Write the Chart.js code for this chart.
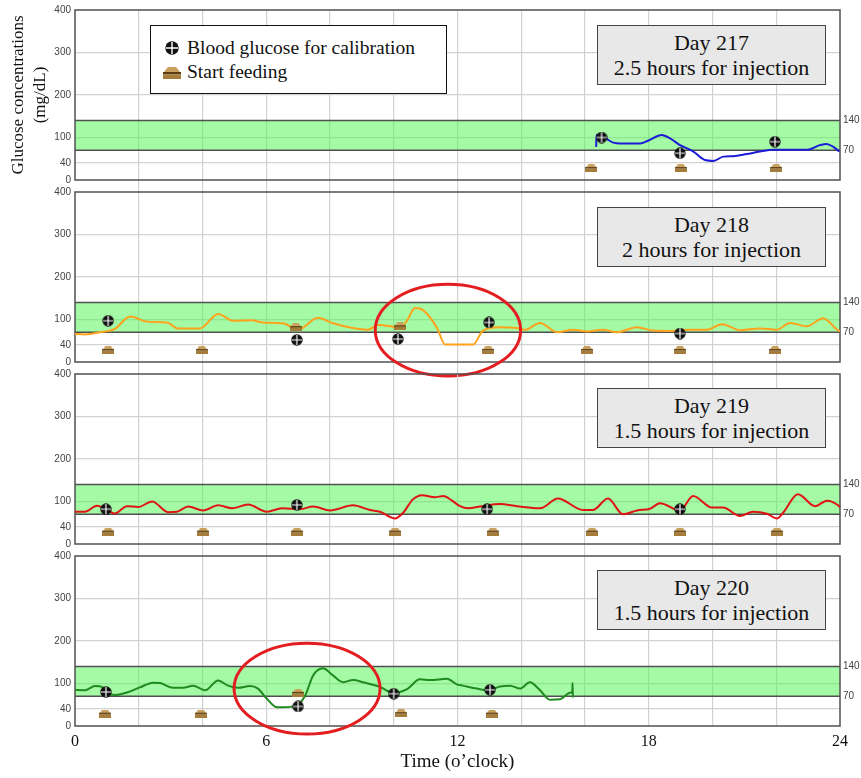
<!DOCTYPE html>
<html>
<head>
<meta charset="utf-8">
<script src="https://cdn.jsdelivr.net/npm/chart.js@4/dist/chart.umd.min.js"></script>
<style>
html,body{margin:0;padding:0;background:#fff;}
#wrap{position:relative;width:861px;height:778px;overflow:hidden;background:#fff;}
#wrap > canvas{position:absolute;left:0;}
.daybox{position:absolute;left:597px;width:229px;height:60px;box-sizing:border-box;border:1.5px solid #444;background:#e8e8e8;
  font-family:"Liberation Serif","Times New Roman",serif;font-size:22px;line-height:25px;text-align:center;padding-top:4px;color:#111;z-index:5;}
.legend{position:absolute;left:150px;top:25px;width:297px;height:69px;box-sizing:border-box;border:1.5px solid #111;background:#fff;
  font-family:"Liberation Serif","Times New Roman",serif;font-size:19.5px;color:#111;z-index:5;}
.legend span{position:absolute;left:36px;line-height:24px;white-space:nowrap;font-family:"Liberation Serif","Times New Roman",serif;}
.legend canvas{position:absolute;}
</style>
</head>
<body>
<div id="wrap">
  <canvas id="c0"></canvas>
  <canvas id="c1"></canvas>
  <canvas id="c2"></canvas>
  <canvas id="c3"></canvas>
  <div class="legend" id="legend">
    <span style="top:10px">Blood glucose for calibration</span>
    <span style="top:34px">Start feeding</span>
  </div>
</div>
<script>
// ---------------- DATA ----------------
const hourTicks = [0, 6, 12, 18, 24];
const yTicksLeft = [0, 40, 100, 200, 300, 400];
const yTicksRight = [70, 140];
const targetRange = [70, 140];
const dayLabels = ['Day 217', 'Day 218', 'Day 219', 'Day 220'];
const injectionLabels = ['2.5 hours for injection', '2 hours for injection', '1.5 hours for injection', '1.5 hours for injection'];

// Day 217 (blue)
const day217Time = [16.35,16.36,16.52,16.68,16.89,17.10,17.73,17.99,18.41,18.67,18.98,19.40,19.76,20.03,20.34,20.65,21.07,21.49,21.91,22.95,23.37,23.58,23.79,23.98];
const day217Glucose = [78,106,100,96,88,86,86,93,106,98,82,67,47,45,55,56,61,67,71,71,82,85,78,67];
const day217CalibTime = [16.52, 18.98, 21.96];
const day217CalibGlucose = [100, 63, 90];
const day217FeedTime = [16.2, 19.0, 22.0];
const day217FeedGlucose = [28, 28, 28];

// Day 218 (orange)
const day218Time = [0,0.31,0.78,1.25,1.73,2.26,2.89,3.23,3.92,4.49,4.96,5.55,5.90,6.53,7.0,7.62,8.09,8.72,9.19,9.51,9.98,10.20,10.42,10.67,10.92,11.36,11.61,12.49,12.80,13.33,13.87,14.12,14.59,15.12,15.62,16.06,16.56,17.00,17.63,18.13,18.76,19.20,19.83,20.30,20.86,21.49,22.02,22.43,22.96,23.47,23.91,24];
const day218Glucose = [66,65,70,78,107,95,93,79,79,113,97,98,93,91,76,104,91,80,76,87,83,80,98,127,122,80,41,41,74,82,80,76,92,70,76,72,76,70,82,74,73,76,76,89,75,79,76,92,84,103,76,72];
const day218CalibTime = [1.04, 6.96, 10.13, 12.99, 18.98];
const day218CalibGlucose = [97, 52, 54, 93, 67];
const day218FeedTime = [1.04, 3.98, 6.93, 10.2, 12.96, 16.06, 18.98, 21.96];
const day218FeedGlucose = [28, 28, 82, 84, 28, 28, 28, 28];

// Day 219 (red)
const day219Time = [0,0.31,0.69,1.10,1.25,1.63,1.98,2.42,2.92,3.20,3.55,4.02,4.49,4.93,5.43,6.02,6.49,7.06,7.47,8.0,8.72,9.25,9.57,10.04,10.29,10.60,10.89,11.29,11.55,11.83,12.08,12.33,12.77,13.33,13.87,14.59,15.15,15.94,16.25,16.72,17.19,17.63,18.04,18.35,18.98,19.39,19.98,20.33,20.86,21.27,21.71,22.02,22.21,22.68,23.22,23.59,23.94,24];
const day219Glucose = [76,76,90,76,72,89,87,100,75,76,88,79,91,84,93,76,84,82,88,79,91,80,76,60,73,105,115,110,113,102,89,84,89,94,89,84,107,80,80,107,70,79,83,96,79,113,86,86,66,76,71,60,73,117,89,102,91,86];
const day219CalibTime = [0.97, 6.96, 12.93, 18.98];
const day219CalibGlucose = [82, 92, 82, 82];
const day219FeedTime = [1.04, 4.02, 6.96, 10.04, 13.11, 16.22, 18.98, 22.02];
const day219FeedGlucose = [29, 29, 29, 29, 29, 29, 29, 29];

// Day 220 (green)
const day220Time = [0,0.31,0.63,0.85,1.0,1.25,1.63,2.04,2.45,2.67,3.07,3.39,3.70,4.08,4.49,4.80,5.11,5.49,5.74,6.02,6.34,6.75,7.0,7.22,7.47,7.78,8.09,8.41,8.72,9.04,9.57,9.98,10.42,10.82,11.14,11.67,11.98,12.17,12.61,12.96,13.33,13.65,13.96,14.27,14.59,14.90,15.22,15.53,15.60,15.61,15.62];
const day220Glucose = [85,84,94,92,78,73,79,91,102,101,90,90,95,84,107,95,90,94,88,64,44,45,50,71,119,136,119,103,108,103,92,78,87,110,108,111,98,95,88,84,93,95,88,103,84,62,63,78,81,101,67];
const day220CalibTime = [0.97, 7.0, 10.0, 13.02];
const day220CalibGlucose = [80, 46, 76, 85];
const day220FeedTime = [0.94, 3.95, 7.0, 10.23, 13.08];
const day220FeedGlucose = [29, 29, 78, 30, 29];

// highlighted episodes (data units: hours, mg/dL)
const highlight218 = {cx: 11.70, cy: 75, rx: 2.28, ry: 108};
const highlight220 = {cx: 7.28, cy: 88, rx: 2.29, ry: 107};

// ---------------- RENDER ----------------
const SERIF = "'Liberation Serif','Times New Roman',serif";
const SANS = "'Liberation Sans',Arial,sans-serif";
Chart.defaults.font.family = SANS;

function toXY(xs, ys){ return xs.map((x, k) => ({x: x, y: ys[k]})); }

function makeCalibIcon(d){
  const c = document.createElement('canvas'); c.width = d; c.height = d;
  const g = c.getContext('2d'); const r = d / 2;
  g.fillStyle = '#111'; g.beginPath(); g.arc(r, r, r - 0.3, 0, Math.PI * 2); g.fill();
  g.strokeStyle = '#fff'; g.lineWidth = Math.max(1.1, d / 10);
  g.beginPath(); g.moveTo(r, 1); g.lineTo(r, d - 1); g.moveTo(1, r); g.lineTo(d - 1, r); g.stroke();
  return c;
}
function makeFeedIcon(w, h){
  const c = document.createElement('canvas'); c.width = w; c.height = h;
  const g = c.getContext('2d');
  const t = Math.round(h * 0.42), s = Math.max(1.5, h * 0.2);
  g.fillStyle = '#c9a15e'; g.beginPath();
  g.moveTo(w * 0.27, 0); g.lineTo(w * 0.73, 0); g.lineTo(w - 1, t); g.lineTo(1, t); g.closePath(); g.fill();
  g.fillStyle = '#5b3b10'; g.fillRect(0, t, w, s);
  g.fillStyle = '#a67c3a'; g.fillRect(0, t + s, w, h - t - s);
  return c;
}

const calibIcon = makeCalibIcon(12);
const feedIcon = makeFeedIcon(12, 8);

// legend icons
(function(){
  const lg = document.getElementById('legend');
  const a = makeCalibIcon(14); a.style.left = '14px'; a.style.top = '15px'; lg.appendChild(a);
  const b = makeFeedIcon(18, 12); b.style.left = '12px'; b.style.top = '41px'; lg.appendChild(b);
})();

const bandPlugin = {
  id: 'band',
  beforeDatasetsDraw(chart, args, opts){
    const {ctx, chartArea: a, scales: {y}} = chart;
    const yTop = y.getPixelForValue(targetRange[1]);
    const yBot = y.getPixelForValue(targetRange[0]);
    ctx.save();
    ctx.fillStyle = 'rgba(75,245,75,0.5)';
    ctx.fillRect(a.left, yTop, a.right - a.left, yBot - yTop);
    ctx.strokeStyle = '#505050'; ctx.lineWidth = 1.5;
    ctx.beginPath();
    ctx.moveTo(a.left, yTop); ctx.lineTo(a.right, yTop);
    ctx.moveTo(a.left, yBot); ctx.lineTo(a.right, yBot);
    ctx.stroke();
    ctx.strokeRect(a.left, a.top, a.right - a.left, a.bottom - a.top);
    ctx.restore();
  },
  afterDatasetsDraw(chart, args, opts){
    const e = opts.ellipse; if (!e) return;
    const {ctx, scales: {x, y}} = chart;
    const cx = x.getPixelForValue(e.cx), cy = y.getPixelForValue(e.cy);
    const rx = Math.abs(x.getPixelForValue(e.cx + e.rx) - cx);
    const ry = Math.abs(y.getPixelForValue(e.cy + e.ry) - cy);
    ctx.save();
    ctx.strokeStyle = '#e41e20'; ctx.lineWidth = 3;
    ctx.beginPath(); ctx.ellipse(cx, cy, rx, ry, 0, 0, Math.PI * 2); ctx.stroke();
    ctx.restore();
  }
};

const panels = [
  {time: day217Time, glucose: day217Glucose, calT: day217CalibTime, calG: day217CalibGlucose, feedT: day217FeedTime, feedG: day217FeedGlucose, color: '#1c1cd8', ellipse: null},
  {time: day218Time, glucose: day218Glucose, calT: day218CalibTime, calG: day218CalibGlucose, feedT: day218FeedTime, feedG: day218FeedGlucose, color: '#ffa21c', ellipse: highlight218},
  {time: day219Time, glucose: day219Glucose, calT: day219CalibTime, calG: day219CalibGlucose, feedT: day219FeedTime, feedG: day219FeedGlucose, color: '#e01414', ellipse: null},
  {time: day220Time, glucose: day220Glucose, calT: day220CalibTime, calG: day220CalibGlucose, feedT: day220FeedTime, feedG: day220FeedGlucose, color: '#1f8a1f', ellipse: highlight220}
];

const wrap = document.getElementById('wrap');
const boxTops = [25, 207, 388, 570];

panels.forEach((p, i) => {
  const last = i === 3;
  const areaTop = 10 + 182 * i;
  const H = last ? 232 : 198;
  const canvas = document.getElementById('c' + i);
  canvas.width = 861; canvas.height = H;
  canvas.style.width = '861px'; canvas.style.height = H + 'px';
  canvas.style.top = (areaTop - 10) + 'px';

  const gridX = ctx => (ctx.tick && (ctx.tick.value === 0 || ctx.tick.value === 24)) ? 'rgba(0,0,0,0)' : '#d2d2d2';
  const gridY = ctx => (ctx.tick && (ctx.tick.value === 0 || ctx.tick.value === 400)) ? 'rgba(0,0,0,0)' : '#d2d2d2';

  new Chart(canvas, {
    type: 'line',
    data: {
      datasets: [
        {label: 'Blood glucose for calibration', data: toXY(p.calT, p.calG), showLine: false, pointStyle: calibIcon, pointRadius: 6, order: 0},
        {label: 'Start feeding', data: toXY(p.feedT, p.feedG), showLine: false, pointStyle: feedIcon, pointRadius: 6, order: 1},
        {label: dayLabels[i], data: toXY(p.time, p.glucose), borderColor: p.color, borderWidth: 2, pointRadius: 0,
         cubicInterpolationMode: 'monotone', fill: false, order: 2}
      ]
    },
    options: {
      responsive: false, animation: false, events: [],
      layout: {padding: {top: 10, left: 0, right: 0, bottom: 0}},
      plugins: {legend: {display: false}, tooltip: {enabled: false}, band: {ellipse: p.ellipse}},
      scales: {
        x: {
          type: 'linear', min: 0, max: 24,
          ticks: {stepSize: 2, display: last, autoSkip: false, maxRotation: 0,
                  callback: v => hourTicks.includes(v) ? String(v) : '',
                  font: {family: SERIF, size: 16}, color: '#111', padding: 6},
          grid: {color: gridX, tickColor: gridX, lineWidth: 1.2, drawTicks: !last, tickLength: 12},
          border: {display: false},
          title: {display: last, text: 'Time (o’clock)', font: {family: SERIF, size: 19}, color: '#111', padding: {top: 0, bottom: 5}},
          afterFit: s => { s.height = H - 180; }
        },
        y: {
          position: 'left', min: 0, max: 400,
          afterBuildTicks: s => { s.ticks = yTicksLeft.map(v => ({value: v})); },
          ticks: {font: {family: SANS, size: 10}, color: '#444', padding: 4, autoSkip: false},
          grid: {color: gridY, lineWidth: 1.2, drawTicks: false},
          border: {display: false},
          title: {display: i === 0, text: ['Glucose concentrations', '(mg/dL)'],
                  font: {family: SERIF, size: 17, lineHeight: 1.3}, color: '#111', padding: {top: 7, bottom: 0}},
          afterFit: s => { s.width = 75; }
        },
        y2: {
          position: 'right', min: 0, max: 400,
          afterBuildTicks: s => { s.ticks = yTicksRight.map(v => ({value: v})); },
          ticks: {font: {family: SANS, size: 10}, color: '#444', padding: 3, autoSkip: false},
          grid: {display: false, drawTicks: false, tickLength: 0},
          border: {display: false},
          afterFit: s => { s.width = 21; }
        }
      }
    },
    plugins: [bandPlugin]
  });

  const box = document.createElement('div');
  box.className = 'daybox';
  box.style.top = boxTops[i] + 'px';
  box.innerHTML = '<div>' + dayLabels[i] + '</div><div>' + injectionLabels[i] + '</div>';
  wrap.appendChild(box);
});
</script>
</body>
</html>
